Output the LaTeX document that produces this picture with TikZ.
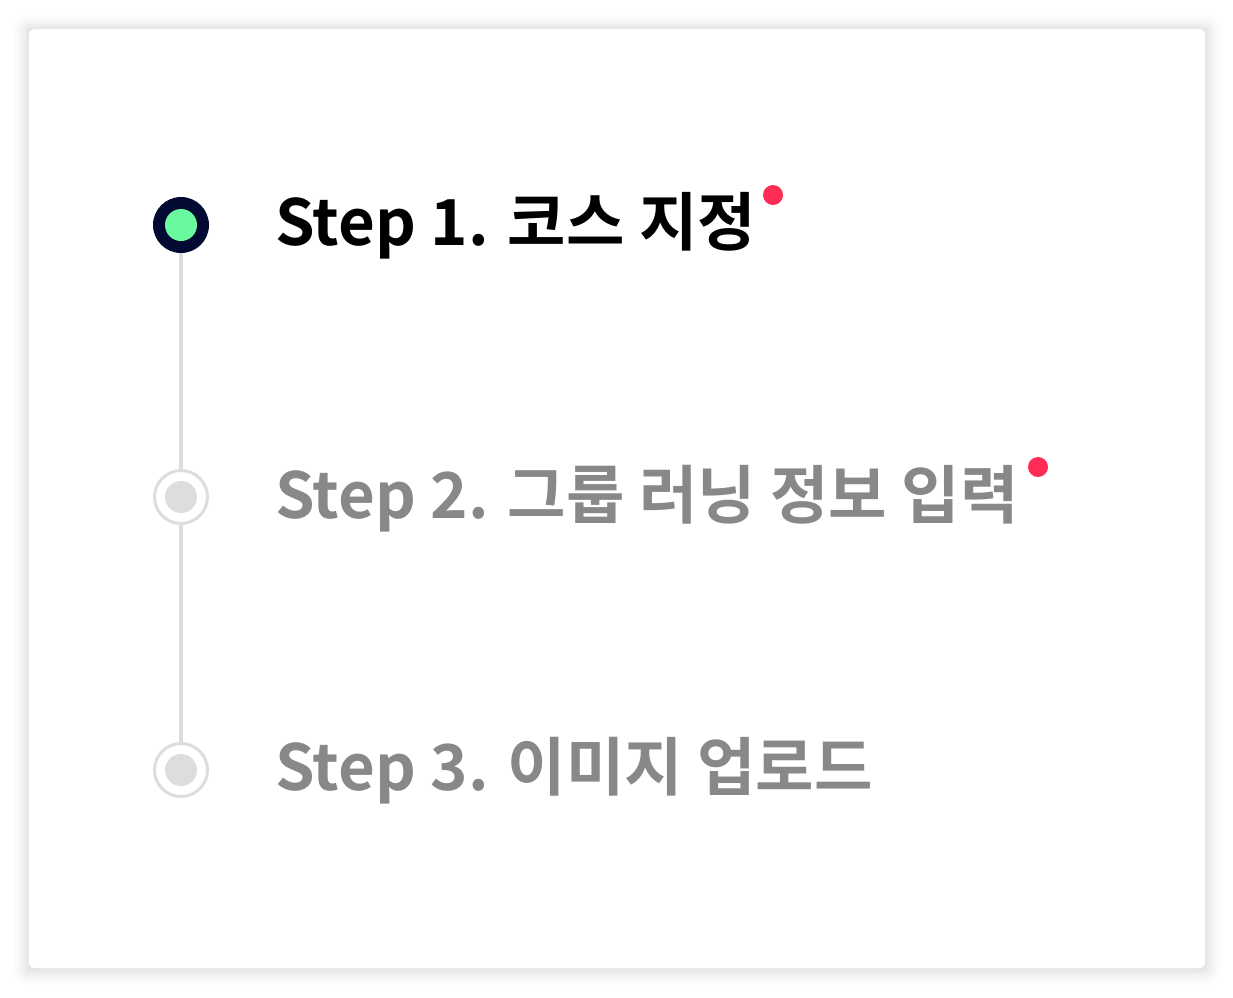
\documentclass[tikz,border=0pt]{standalone}
\usepackage{fontspec}
\newfontfamily\kr{Noto Sans CJK KR Bold}
\definecolor{navy}{HTML}{020A33}
\definecolor{mint}{HTML}{6BF99E}
\definecolor{lgray}{HTML}{DDDDDD}
\definecolor{tgray}{HTML}{888888}
\definecolor{dotred}{HTML}{FF2D55}
\begin{document}
\begin{tikzpicture}[x=1pt,y=-1pt,
  steptext/.style={anchor=base west,inner sep=0pt,font=\kr\fontsize{63.5}{64}\selectfont},
  activecirc/.style={circle,fill=navy,minimum size=56pt,inner sep=0pt},
  idlecirc/.style={circle,draw=lgray,line width=3pt,fill=white,minimum size=53pt,inner sep=0pt},
  innerdisc/.style={circle,minimum size=32pt,inner sep=0pt},
  reddot/.style={circle,fill=dotred,minimum size=20pt,inner sep=0pt},
  railline/.style={draw=lgray,line width=4pt}]
\useasboundingbox (0,0) rectangle (1233,997);
\fill[white] (0,0) rectangle (1233,997);
% shadow
\foreach \i/\o in {16/0.007,14/0.008,12/0.009,10/0.011,8/0.013,6/0.015,4/0.017,2/0.02}{
  \fill[black,opacity=\o,rounded corners=\i pt] (29-\i,29-\i+1) rectangle (1205+\i,968+\i+1);
}
\fill[white,rounded corners=6pt] (29,29) rectangle (1205,968);
% circles
\node[activecirc] (c1) at (181,225) {};
\node[idlecirc] (c2) at (181,497) {};
\node[idlecirc] (c3) at (181,770) {};
\draw[railline] (c1.south) -- (c2.north);
\draw[railline] (c2.south) -- (c3.north);
\node[innerdisc,fill=mint] (g1) at (c1) {};
\node[innerdisc,fill=lgray] (d2) at (c2) {};
\node[innerdisc,fill=lgray] (d3) at (c3) {};
% texts
\node[steptext,text=black] (t1) at (275,245) {Step 1. 코스 지정};
\node[steptext,text=tgray] (t2) at (275,518) {Step 2. 그룹 러닝 정보 입력};
\node[steptext,text=tgray] (t3) at (275,790) {Step 3. 이미지 업로드};
\node[reddot] (r1) at (773,195) {};
\node[reddot] (r2) at (1038,467) {};
\end{tikzpicture}
\end{document}
